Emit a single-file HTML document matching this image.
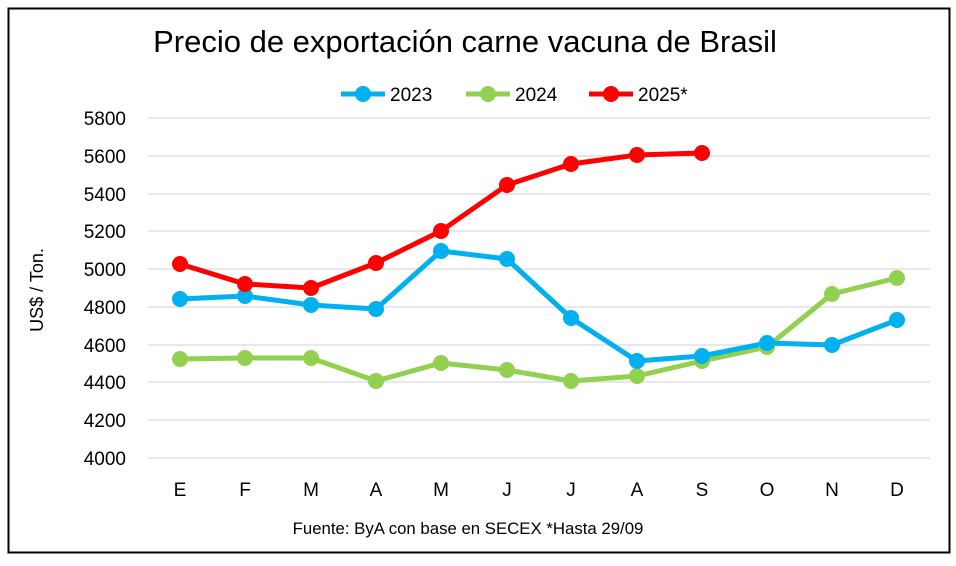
<!DOCTYPE html>
<html><head><meta charset="utf-8"><style>
html,body{margin:0;padding:0;background:#fff;}
</style></head><body>
<svg width="956" height="561" xmlns="http://www.w3.org/2000/svg" font-family="Liberation Sans, sans-serif">
<rect x="0" y="0" width="956" height="561" fill="#fff"/>
<rect x="8.5" y="8.5" width="941" height="544" fill="none" stroke="#000" stroke-width="2"/>
<text x="465" y="52" font-size="31" text-anchor="middle" fill="#000">Precio de exportación carne vacuna de Brasil</text>
<g stroke="#d9d9d9" stroke-width="1.3">
<line x1="148" x2="930" y1="118" y2="118"/><line x1="148" x2="930" y1="156" y2="156"/>
<line x1="148" x2="930" y1="194" y2="194"/><line x1="148" x2="930" y1="231" y2="231"/>
<line x1="148" x2="930" y1="269" y2="269"/><line x1="148" x2="930" y1="307" y2="307"/>
<line x1="148" x2="930" y1="345" y2="345"/><line x1="148" x2="930" y1="382" y2="382"/>
<line x1="148" x2="930" y1="420" y2="420"/><line x1="148" x2="930" y1="458" y2="458"/>
</g>
<g font-size="19" fill="#000" text-anchor="end">
<text x="126" y="125">5800</text><text x="126" y="163">5600</text><text x="126" y="201">5400</text>
<text x="126" y="238">5200</text><text x="126" y="276">5000</text><text x="126" y="314">4800</text>
<text x="126" y="352">4600</text><text x="126" y="389">4400</text><text x="126" y="427">4200</text>
<text x="126" y="465">4000</text>
</g>
<g font-size="19" fill="#000" text-anchor="middle">
<text x="180" y="496">E</text><text x="245" y="496">F</text><text x="311" y="496">M</text>
<text x="376" y="496">A</text><text x="441" y="496">M</text><text x="507" y="496">J</text>
<text x="571" y="496">J</text><text x="637" y="496">A</text><text x="702" y="496">S</text>
<text x="767" y="496">O</text><text x="832" y="496">N</text><text x="897" y="496">D</text>
</g>
<text transform="translate(43,290) rotate(-90)" font-size="18" text-anchor="middle">US$ / Ton.</text>
<text x="468" y="534" font-size="16.8" text-anchor="middle">Fuente: ByA con base en SECEX *Hasta 29/09</text>
<g stroke-width="5">
<line x1="341" x2="385" y1="94" y2="94" stroke="#00b0f0"/><circle cx="363" cy="94" r="8" fill="#00b0f0"/>
<line x1="466" x2="510" y1="94" y2="94" stroke="#92d050"/><circle cx="488" cy="94" r="8" fill="#92d050"/>
<line x1="589" x2="633" y1="94" y2="94" stroke="#ff0000"/><circle cx="611" cy="94" r="8" fill="#ff0000"/>
</g>
<g font-size="19"><text x="390" y="101">2023</text><text x="515" y="101">2024</text><text x="638" y="101">2025*</text></g>
<g fill="none" stroke-width="5" stroke-linejoin="round">
<polyline stroke="#92d050" points="180,359 245,358 311,358 376,381 441,363 507,370 571,381 637,376 702,361 767,347 832,294 897,278"/>
<polyline stroke="#00b0f0" points="180,299 245,296 311,305 376,309 441,251 507,259 571,318 637,361 702,356 767,343 832,345 897,320"/>
<polyline stroke="#ff0000" points="180,264 245,284 311,288 376,263 441,231 507,185 571,164 637,155 702,153"/>
</g>
<g fill="#92d050">
<circle cx="180" cy="359" r="8"/><circle cx="245" cy="358" r="8"/><circle cx="311" cy="358" r="8"/><circle cx="376" cy="381" r="8"/><circle cx="441" cy="363" r="8"/><circle cx="507" cy="370" r="8"/><circle cx="571" cy="381" r="8"/><circle cx="637" cy="376" r="8"/><circle cx="702" cy="361" r="8"/><circle cx="767" cy="347" r="8"/><circle cx="832" cy="294" r="8"/><circle cx="897" cy="278" r="8"/>
</g>
<g fill="#00b0f0">
<circle cx="180" cy="299" r="8"/><circle cx="245" cy="296" r="8"/><circle cx="311" cy="305" r="8"/><circle cx="376" cy="309" r="8"/><circle cx="441" cy="251" r="8"/><circle cx="507" cy="259" r="8"/><circle cx="571" cy="318" r="8"/><circle cx="637" cy="361" r="8"/><circle cx="702" cy="356" r="8"/><circle cx="767" cy="343" r="8"/><circle cx="832" cy="345" r="8"/><circle cx="897" cy="320" r="8"/>
</g>
<g fill="#ff0000">
<circle cx="180" cy="264" r="8"/><circle cx="245" cy="284" r="8"/><circle cx="311" cy="288" r="8"/><circle cx="376" cy="263" r="8"/><circle cx="441" cy="231" r="8"/><circle cx="507" cy="185" r="8"/><circle cx="571" cy="164" r="8"/><circle cx="637" cy="155" r="8"/><circle cx="702" cy="153" r="8"/>
</g>
</svg>
</body></html>
